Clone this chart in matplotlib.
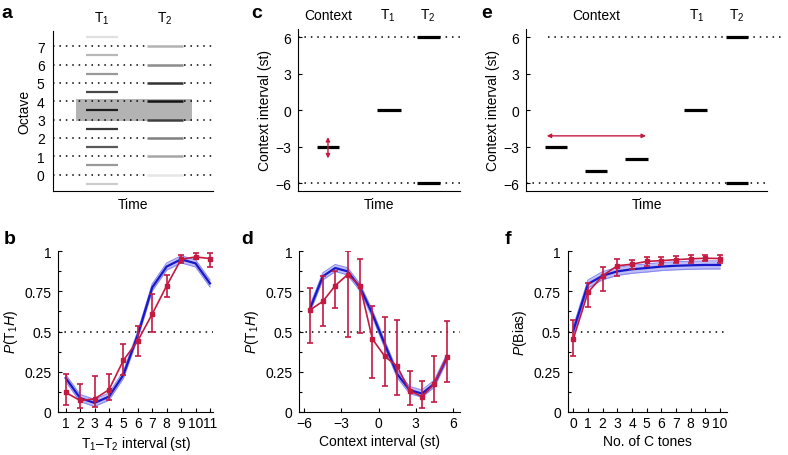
import matplotlib
matplotlib.use("Agg")
import matplotlib.pyplot as plt
import numpy as np

plt.rcParams["font.family"] = ["Liberation Sans", "DejaVu Sans"]
plt.rcParams["mathtext.fontset"] = "custom"
plt.rcParams["mathtext.rm"] = "Liberation Sans"
plt.rcParams["mathtext.it"] = "Liberation Sans:italic"
plt.rcParams["font.size"] = 10

# ---- panel a: octave components of T1 / T2 ----
t1_oct = [-0.5, 0.5, 1.5, 2.5, 3.5, 4.5, 5.5, 6.5, 7.5]
t1_gray = [0.80, 0.60, 0.35, 0.22, 0.12, 0.28, 0.60, 0.72, 0.88]
t2_oct = [0, 1, 2, 3, 4, 5, 6, 7]
t2_gray = [0.90, 0.65, 0.50, 0.25, 0.08, 0.20, 0.55, 0.70]

# ---- panel c / e: context tone schematics ----
c_ctx = [-3]
e_ctx = [-3, -5, -4]
t1_level = 0
t2_levels = [6, -6]

# ---- panel b ----
b_x = np.arange(1, 12)
b_data = [0.12, 0.07, 0.08, 0.137, 0.32, 0.443, 0.609, 0.786, 0.95, 0.965, 0.955]
b_lo = [0.04, 0.02, 0.03, 0.07, 0.23, 0.35, 0.50, 0.713, 0.93, 0.95, 0.90]
b_hi = [0.235, 0.17, 0.225, 0.233, 0.425, 0.536, 0.734, 0.852, 0.975, 0.99, 0.988]
b_model = [0.21, 0.085, 0.055, 0.094, 0.23, 0.48, 0.775, 0.905, 0.95, 0.925, 0.80]

# ---- panel d ----
d_x = np.arange(-5.5, 6, 1.0)
d_data = [0.636, 0.688, 0.786, 0.855, 0.786, 0.453, 0.345, 0.283, 0.131, 0.094, 0.173, 0.343]
d_lo = [0.426, 0.532, 0.647, 0.468, 0.489, 0.21, 0.158, 0.104, 0.044, 0.023, 0.062, 0.183]
d_hi = [0.773, 0.844, 0.879, 1.0, 0.952, 0.661, 0.588, 0.572, 0.252, 0.193, 0.349, 0.563]
d_model = [0.65, 0.844, 0.896, 0.875, 0.775, 0.61, 0.42, 0.235, 0.135, 0.113, 0.175, 0.335]

# ---- panel f ----
f_x = np.arange(0, 11)
f_data = [0.453, 0.744, 0.848, 0.91, 0.92, 0.937, 0.942, 0.948, 0.953, 0.957, 0.955]
f_lo = [0.349, 0.65, 0.755, 0.844, 0.89, 0.91, 0.915, 0.925, 0.93, 0.94, 0.93]
f_hi = [0.572, 0.80, 0.904, 0.952, 0.948, 0.967, 0.967, 0.972, 0.977, 0.977, 0.977]
f_model = [0.505, 0.796, 0.848, 0.875, 0.888, 0.896, 0.905, 0.91, 0.913, 0.915, 0.915]

RED = "#c41a42"
BLUE = "#1818c8"
BAND = "#8a8af0"
W, H = 788, 456


def rect(x0, y0, x1, y1):
    return [x0 / W, 1 - y1 / H, (x1 - x0) / W, (y1 - y0) / H]


def dotted(ax, y, x0=0, x1=1, **kw):
    ax.plot([x0, x1], [y, y], color="k", lw=1.1, ls=(0, (1, 3.2)), zorder=2, **kw)


def style(ax):
    for s in ["top", "right"]:
        ax.spines[s].set_visible(False)
    ax.tick_params(direction="in", length=3, width=0.8)


def head_label(ax, x, s):
    ax.text(x, 1.085, s, transform=ax.get_xaxis_transform(), ha="center", va="center")


fig = plt.figure(figsize=(7.88, 4.56), dpi=100)

# panel a
ax = fig.add_axes(rect(53, 32, 213, 192))
style(ax)
ax.set_xlim(0, 1)
ax.set_ylim(-0.89, 7.83)
ax.add_patch(plt.Rectangle((0.144, 2.9), 0.725, 1.2, color="#b3b3b3", lw=0, zorder=1))
for o in t2_oct:
    dotted(ax, o, 0, 0.585)
    dotted(ax, o, 0.82, 1)
for o, g in zip(t1_oct, t1_gray):
    ax.plot([0.206, 0.406], [o, o], color=str(g), lw=1.6, zorder=3, solid_capstyle="butt")
for o, g in zip(t2_oct, t2_gray):
    ax.plot([0.59, 0.81], [o, o], color=str(g), lw=1.8, zorder=3, solid_capstyle="butt")
ax.set_yticks(t2_oct)
ax.set_xticks([])
ax.tick_params(axis="y", length=0, pad=6)
ax.set_ylabel("Octave", labelpad=4)
ax.set_xlabel("Time", labelpad=4)
head_label(ax, 0.306, "T$_1$")
head_label(ax, 0.70, "T$_2$")


def context_panel(ax, ctx, ctx_x, t1_x, t2_x, d6, dm6):
    style(ax)
    ax.set_xlim(0, 1)
    ax.set_ylim(-6.63, 6.68)
    dotted(ax, 6, *d6, clip_on=False)
    dotted(ax, -6, *dm6)
    for (x0, x1), v in zip(ctx_x, ctx):
        ax.plot([x0, x1], [v, v], color="k", lw=2.3, zorder=3, solid_capstyle="butt")
    ax.plot(t1_x, [t1_level] * 2, color="k", lw=2.3, zorder=3, solid_capstyle="butt")
    for v in t2_levels:
        ax.plot(t2_x, [v, v], color="k", lw=2.3, zorder=3, solid_capstyle="butt")
    ax.set_yticks([-6, -3, 0, 3, 6])
    ax.set_yticklabels(["\u22126", "\u22123", "0", "3", "6"])
    ax.set_xticks([])
    ax.tick_params(axis="y", pad=5)
    ax.set_xlabel("Time", labelpad=4)
    ax.set_ylabel("Context interval (st)", labelpad=2)


# panel c
ax = fig.add_axes(rect(298, 30, 460, 192))
context_panel(ax, c_ctx, [(0.115, 0.253)], [0.488, 0.634], [0.737, 0.875], (0, 1), (0, 1))
ax.annotate("", xy=(0.185, -2.2), xytext=(0.185, -3.95),
            arrowprops=dict(arrowstyle="<|-|>", color=RED, lw=1, mutation_scale=6,
                            shrinkA=0, shrinkB=0))
head_label(ax, 0.185, "Context")
head_label(ax, 0.556, "T$_1$")
head_label(ax, 0.80, "T$_2$")

# panel e
ax = fig.add_axes(rect(526, 30, 767, 192))
context_panel(ax, e_ctx, [(0.079, 0.171), (0.245, 0.337), (0.41, 0.505)],
              [0.656, 0.75], [0.828, 0.922], (0.091, 1.062), (0, 1))
ax.annotate("", xy=(0.498, -2.1), xytext=(0.086, -2.1),
            arrowprops=dict(arrowstyle="<|-|>", color=RED, lw=1, mutation_scale=6,
                            shrinkA=0, shrinkB=0))
head_label(ax, 0.293, "Context")
head_label(ax, 0.707, "T$_1$")
head_label(ax, 0.873, "T$_2$")


def curve_panel(ax, x, data, lo, hi, model, bw=0.022):
    style(ax)
    data, lo, hi, model = map(np.asarray, (data, lo, hi, model))
    ax.fill_between(x, model - bw, model + bw, color=BAND, alpha=0.55, lw=0, zorder=2)
    ax.plot(x, model - bw, color=BAND, lw=0.8, zorder=2)
    ax.plot(x, model + bw, color=BAND, lw=0.8, zorder=2)
    ax.plot(x, model, color=BLUE, lw=1.6, zorder=3)
    ax.errorbar(x, data, yerr=[data - lo, hi - data], color=RED, lw=1.2, elinewidth=1.2,
                capsize=2, capthick=1.2, marker="s", ms=2.2, zorder=4)
    ax.axhline(0.5, color="k", lw=1.1, ls=(0, (1, 3.2)), zorder=1)
    ax.set_ylim(0, 1.002)
    ax.set_yticks([0, 0.25, 0.5, 0.75, 1])
    ax.set_yticklabels(["0", "0.25", "0.5", "0.75", "1"])
    ax.set_yticks(np.arange(0, 1.01, 0.125), minor=True)
    ax.tick_params(which="minor", direction="in", length=2, width=0.8)
    ax.tick_params(axis="y", pad=5)
    ax.tick_params(axis="x", pad=3)


# panel b
ax = fig.add_axes(rect(58.3, 252, 213, 412.7))
curve_panel(ax, b_x, b_data, b_lo, b_hi, b_model)
ax.set_xlim(0.49, 11.21)
ax.set_xticks(b_x)
ax.set_xlabel("T$_1$\u2013T$_2$ interval (st)", labelpad=3)
ax.set_ylabel("$P$(T$_1$$H$)", labelpad=3)

# panel d
ax = fig.add_axes(rect(299.3, 252, 460, 412.7))
curve_panel(ax, d_x, d_data, d_lo, d_hi, d_model)
ax.set_xlim(-6.4, 6.57)
ax.set_xticks([-6, -3, 0, 3, 6])
ax.set_xticklabels(["\u22126", "\u22123", "0", "3", "6"])
ax.set_xlabel("Context interval (st)", labelpad=3)
ax.set_ylabel("$P$(T$_1$$H$)", labelpad=3)

# panel f
ax = fig.add_axes(rect(567.7, 252, 726.7, 412.7))
curve_panel(ax, f_x, f_data, f_lo, f_hi, f_model, bw=0.025)
ax.set_xlim(-0.38, 10.45)
ax.set_xticks(f_x)
ax.set_xlabel("No. of C tones", labelpad=3)
ax.set_ylabel("$P$(Bias)", labelpad=3)

for lab, (px, py) in zip("abcdef", [(7, 13), (10, 240), (257, 13), (247, 240), (487, 13), (508, 240)]):
    fig.text(px / W, 1 - py / H, lab, fontsize=14, fontweight="bold", ha="center", va="center")

fig.savefig("out.png", dpi=100)
